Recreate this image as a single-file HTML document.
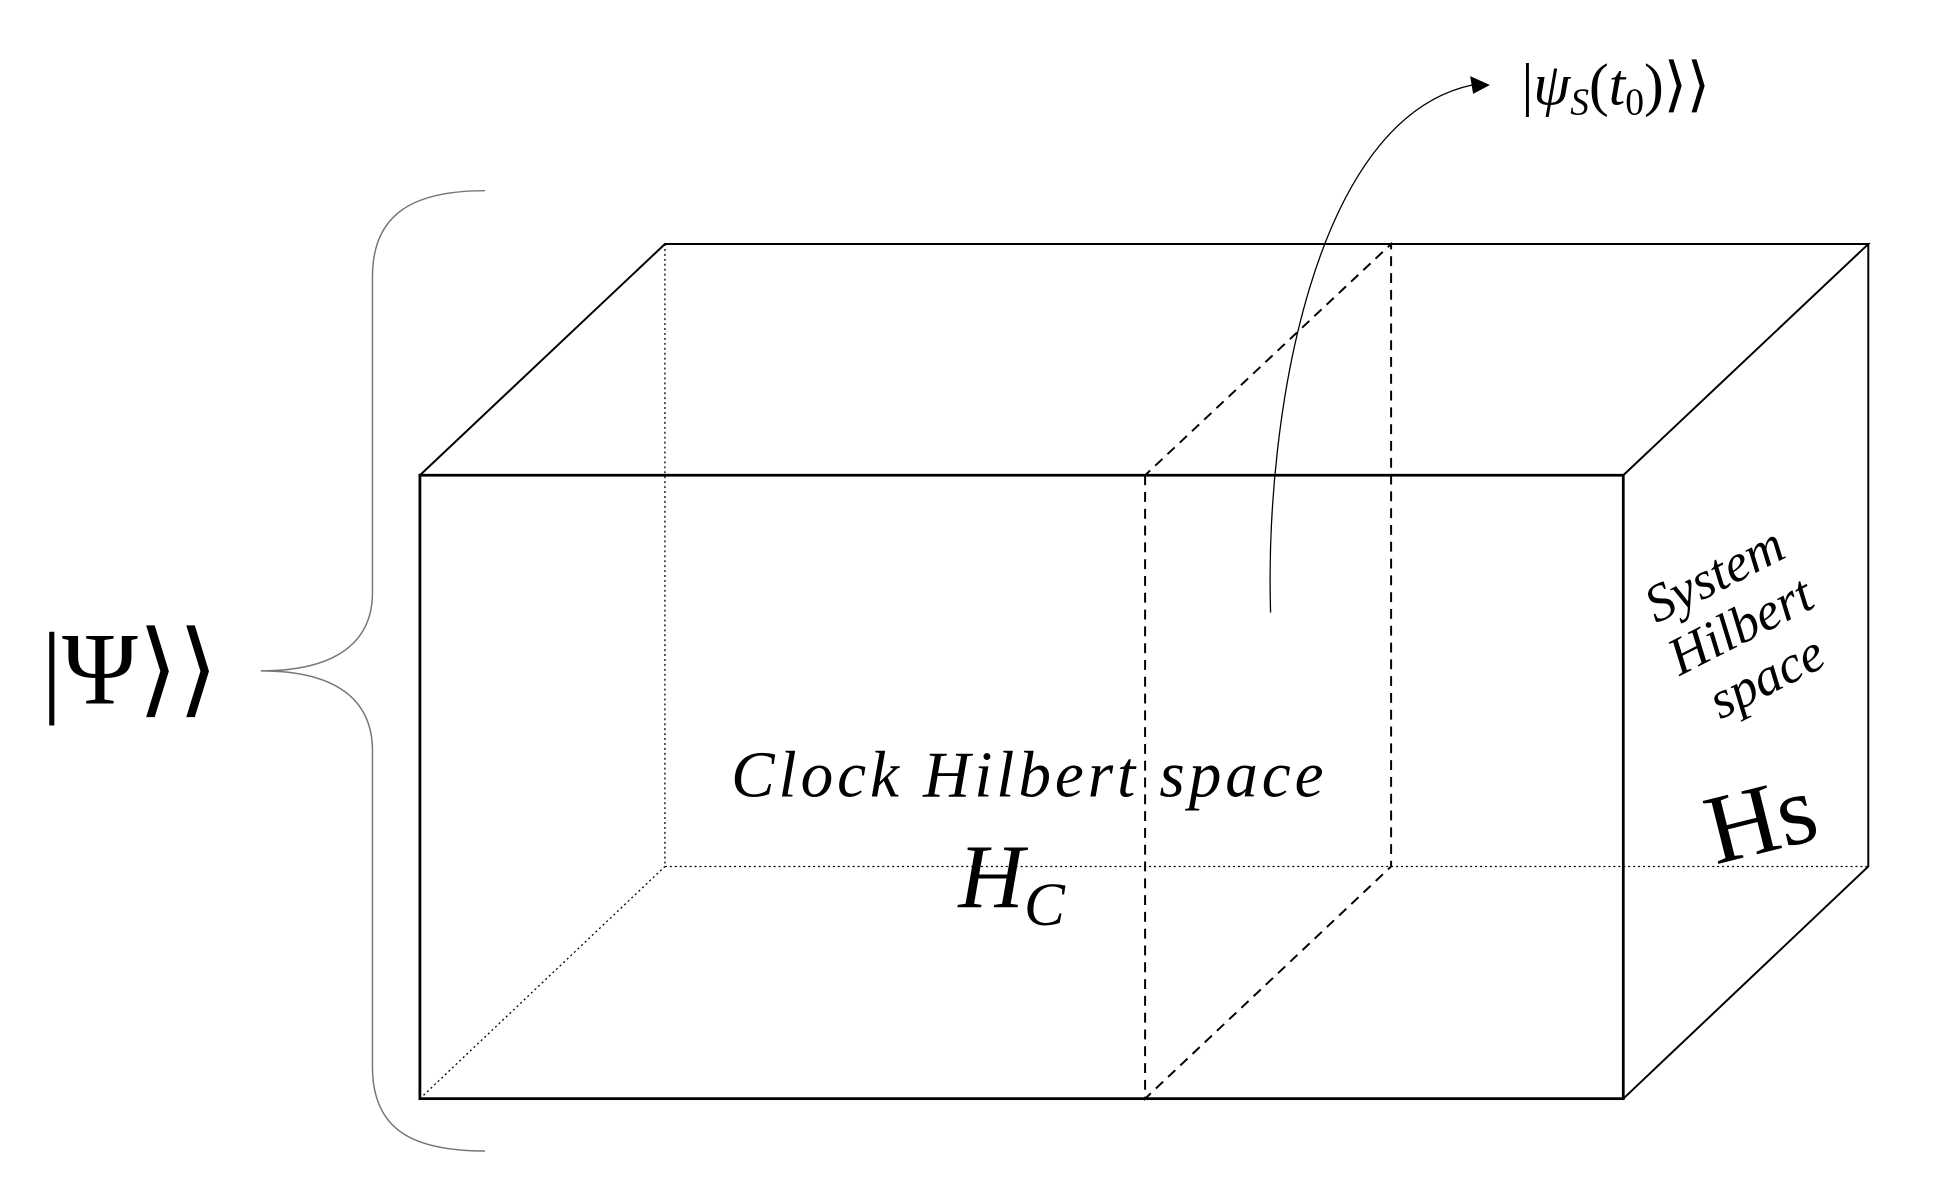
<!DOCTYPE html>
<html><head><style>html,body{margin:0;padding:0;background:#fff;}svg{display:block}</style></head>
<body>
<svg width="1948" height="1194" viewBox="0 0 1948 1194" xmlns="http://www.w3.org/2000/svg">
<g transform="scale(0.988)">
<g fill="none" stroke="#000">
<path d="M673 247 L673 877 L1891 877 M425 1112 L673 877" stroke-width="1.3" stroke-dasharray="2,3"/>
<path d="M425 481 L673 247 L1891 247 L1643 481 M1891 247 L1891 877 L1643 1112" stroke-width="2"/>
<path d="M1159 481 L1159 1112 L1408 877 L1408 247 L1159 481" stroke-width="2" stroke-dasharray="10,7"/>
<rect x="425" y="481" width="1218" height="631" stroke-width="2.8"/>
<path d="M491 193 C420 193 377 215 377 280 L377 600 C377 650 340 679 264 679 C340 679 377 708 377 760 L377 1080 C377 1145 420 1165 491 1165" stroke="#777" stroke-width="1.5"/>
<path d="M1286 620 C1280 420 1330 120 1490 86" stroke-width="1.3"/>
</g>
<polygon points="1508,86 1488,77 1491,95" fill="#000"/>
<g font-family="Liberation Serif, serif" fill="#000">
<text x="1540" y="106" font-size="60">|<tspan font-style="italic">ψ</tspan><tspan font-size="38" font-style="italic" dy="10">S</tspan><tspan dy="-10">(</tspan><tspan font-style="italic">t</tspan><tspan font-size="38" dy="10">0</tspan><tspan dy="-10">)⟩⟩</tspan></text>
<text x="42" y="712" font-size="104">|Ψ⟩⟩</text>
<text x="740" y="806" font-size="66" font-style="italic" letter-spacing="4">Clock Hilbert space</text>
<text x="970" y="918" font-size="92" font-style="italic">H<tspan font-size="62" dy="18">C</tspan></text>
<g font-style="italic" font-size="54" transform="rotate(-27 1765 640)" text-anchor="middle">
<text x="1765" y="592">System</text>
<text x="1765" y="650">Hilbert</text>
<text x="1765" y="708">space</text>
</g>
<text x="1725" y="858" font-size="100" transform="rotate(-14 1800 820)">Hs</text>
</g>
</g>
</svg>
</body></html>
